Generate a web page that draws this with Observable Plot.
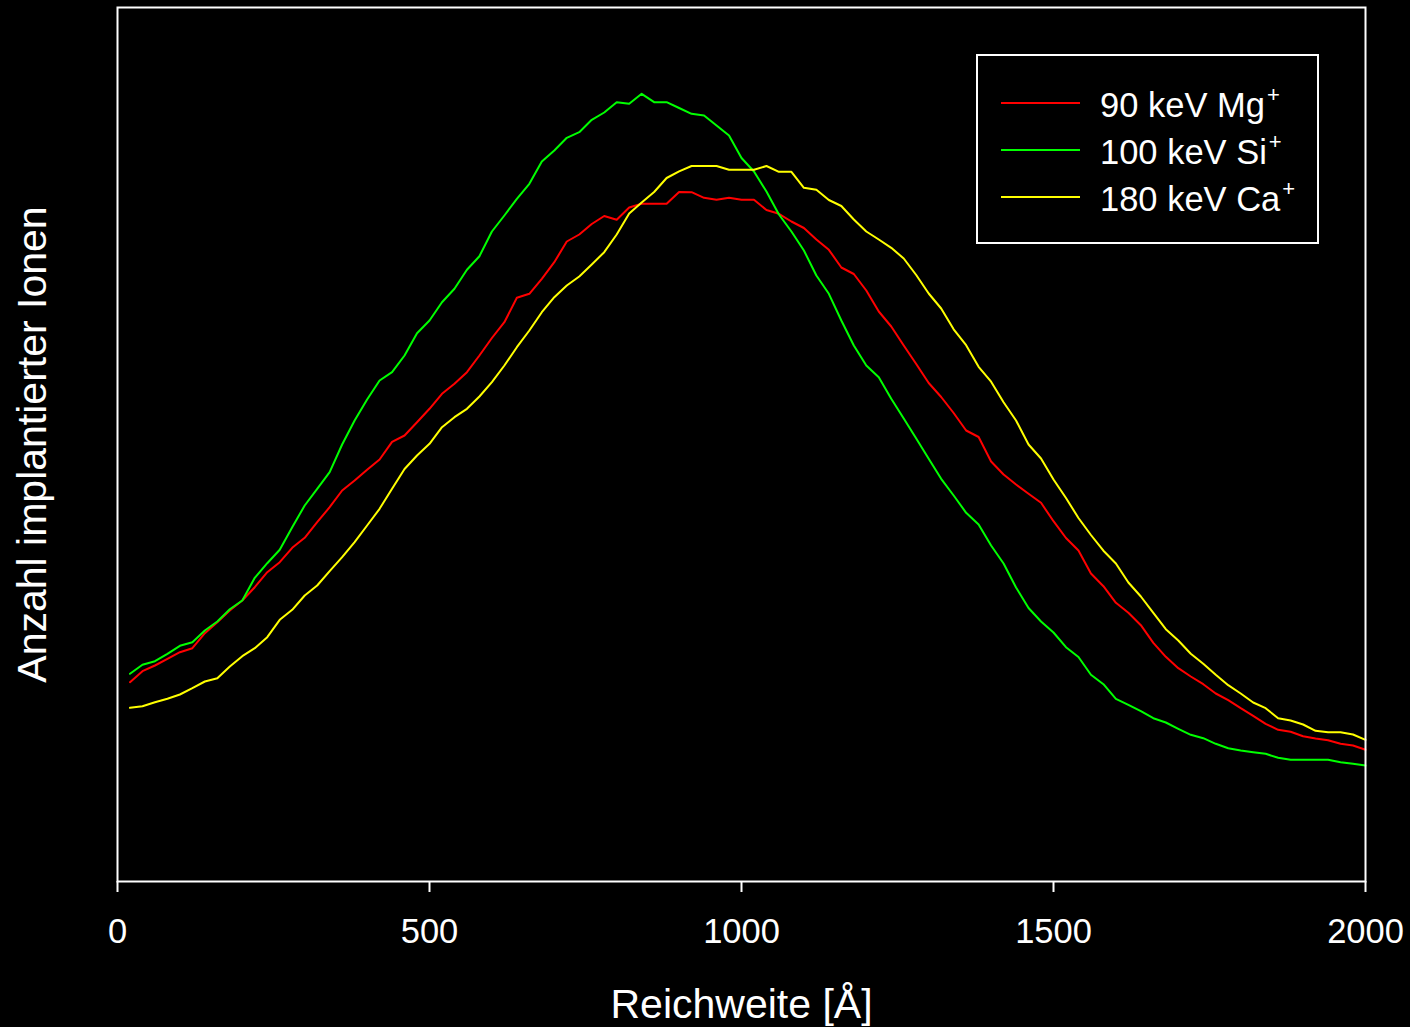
<!DOCTYPE html>
<html>
<head>
<meta charset="utf-8">
<script src="https://cdn.jsdelivr.net/npm/d3@7"></script>
<script src="https://cdn.jsdelivr.net/npm/@observablehq/plot@0.6"></script>
<style>
  html, body { margin: 0; padding: 0; background: #000; }
  #wrap { position: relative; width: 1410px; height: 1027px; background: #000; overflow: hidden; }
  #legend { position: absolute; left: 0; top: 0; pointer-events: none; }
</style>
</head>
<body>
<div id="wrap"></div>
<script>
// Reichweite (range) in Ångström
const reichweite = [20,40,60,80,100,120,140,160,180,200,220,240,260,280,300,320,340,360,380,400,
  420,440,460,480,500,520,540,560,580,600,620,640,660,680,700,720,740,760,780,800,
  820,840,860,880,900,920,940,960,980,1000,1020,1040,1060,1080,1100,1120,1140,1160,1180,1200,
  1220,1240,1260,1280,1300,1320,1340,1360,1380,1400,1420,1440,1460,1480,1500,1520,1540,1560,1580,1600,
  1620,1640,1660,1680,1700,1720,1740,1760,1780,1800,1820,1840,1860,1880,1900,1920,1940,1960,1980,2000];

// Anzahl implantierter Ionen (arbitrary units)
const mg90 = [199.3,210.3,216,222.7,229.3,233.3,248.3,259.3,271,281,294.3,309.3,319.3,333.7,343.7,359.3,374.3,391,401,411.7,
  422,439.7,446,459.3,472.7,487.7,497.7,509.3,526,543.5,559.3,583.7,587.7,602.7,619.3,640,647,657.5,665.5,661.7,
  674,677.7,677.7,677.7,689.5,689.3,683.7,681.7,683.7,681.8,681.7,671.5,667.7,660,653.5,642,631.7,614,607.5,591,
  570,555,536,517.5,498.5,484.5,468.5,451,444.5,420,407,397,387.7,378.7,360.3,343.5,331,308,295.3,278.7,
  268.7,256.3,238.7,224.7,213.3,205,197.3,188,181.3,173.3,165.7,157.7,151.7,149.7,145.3,143,141.3,137.7,136,131.7];

const si100 = [207.7,216.7,220.3,227.7,235.7,239.3,251,260,272.3,281,303.7,318.3,331.7,354.3,376,392.7,409.3,437,461,482,
  501,509.3,526,548.3,561,579.3,592.7,611.7,625.3,650,666,682.7,697.7,720,731,743.7,749.3,761.7,769,779.3,
  777.7,787.7,779.3,779.3,773.5,767.7,766,756,746,723.5,710,690,667,650,631,606,587.7,561,536,516,
  504.3,482.7,463,443,422.7,402.7,386,368.7,357,336,318,294,273.5,260,249,234.3,224.5,206.7,197.3,182.7,
  176.7,170.3,163.3,159,152.7,146.7,143.3,137.7,133.3,131,129.3,127.7,123.7,121.7,121.7,121.7,121.7,119.3,117.7,116];

const ca180 = [173.7,175.3,179.3,182.7,187,193.3,200,203.3,215,225.3,233.3,244.3,261.7,271.7,286,296,310.3,324.3,339.3,356,
  372.7,392.7,412.5,426,437.7,454.3,464.3,472.7,485,499.3,516,534.3,551,569.3,584.3,596,605,617,629.3,647,
  668,679,689.5,703.5,710.2,715.5,715.5,715.5,711.7,711.7,711.7,715.5,709.7,709.7,693.7,691.7,681.5,675.5,662,650,
  642,633.7,623,606.5,588,573,552.2,536.3,514.7,499.8,479.3,461,437,423,402,383.5,363.5,346.5,330.8,318,
  299,285,268.7,252.3,241,227.7,217.7,206.7,196.3,188,179,173.3,163.3,161,157,150.7,149.3,149.3,147,141.7];

const seriesNames = ["90 keV Mg", "100 keV Si", "180 keV Ca"];
const seriesSup = ["+", "+", "+"];
const seriesColors = ["#ff0000", "#00ff00", "#ffff00"];
const seriesValues = [mg90, si100, ca180];
const xTicks = [0, 500, 1000, 1500, 2000];
const xLabel = "Reichweite [Å]";
const yLabel = "Anzahl implantierter Ionen";

const data = [];
seriesValues.forEach((vals, s) => {
  vals.forEach((v, i) => data.push({series: seriesNames[s], x: reichweite[i], y: v}));
});

const font = "'Liberation Sans', Arial, Helvetica, sans-serif";

const chart = Plot.plot({
  width: 1410,
  height: 1027,
  marginLeft: 117,
  marginRight: 45,
  marginTop: 7,
  marginBottom: 146,
  style: {background: "#000", color: "#fff", fontFamily: font},
  x: {domain: [0, 2000]},
  y: {domain: [0, 874], axis: null},
  color: {domain: seriesNames, range: seriesColors},
  marks: [
    Plot.line(data, {x: "x", y: "y", z: "series", stroke: "series", strokeWidth: 2}),
    Plot.frame({stroke: "#fff", strokeWidth: 2}),
    Plot.axisX({ticks: xTicks, tickSize: 11, tickPadding: 26, fontSize: 34.5, label: null, strokeWidth: 2, tickFormat: d => String(d)}),
    Plot.text([xLabel], {text: d => d, frameAnchor: "bottom", lineAnchor: "middle", textAnchor: "middle", dy: 123, fontSize: 41, fill: "#fff"}),
    Plot.text([yLabel], {text: d => d, frameAnchor: "left", lineAnchor: "middle", textAnchor: "middle", dx: -85, rotate: -90, fontSize: 41, fill: "#fff"})
  ]
});

const wrap = document.getElementById("wrap");
wrap.appendChild(chart);

// Legend overlay
const ns = "http://www.w3.org/2000/svg";
const lg = document.createElementNS(ns, "svg");
lg.setAttribute("id", "legend");
lg.setAttribute("width", 1410);
lg.setAttribute("height", 1027);
const box = document.createElementNS(ns, "rect");
box.setAttribute("x", 977); box.setAttribute("y", 55);
box.setAttribute("width", 341); box.setAttribute("height", 188);
box.setAttribute("fill", "#000"); box.setAttribute("stroke", "#fff"); box.setAttribute("stroke-width", 2);
lg.appendChild(box);
seriesNames.forEach((name, i) => {
  const yl = 103 + i * 47;
  const ln = document.createElementNS(ns, "line");
  ln.setAttribute("x1", 1001); ln.setAttribute("x2", 1080);
  ln.setAttribute("y1", yl); ln.setAttribute("y2", yl);
  ln.setAttribute("stroke", seriesColors[i]); ln.setAttribute("stroke-width", 2);
  lg.appendChild(ln);
  const t = document.createElementNS(ns, "text");
  t.setAttribute("x", 1100); t.setAttribute("y", yl + 14);
  t.setAttribute("fill", "#fff"); t.setAttribute("font-size", 34.5);
  t.setAttribute("font-family", font);
  t.appendChild(document.createTextNode(name));
  const sup = document.createElementNS(ns, "tspan");
  sup.setAttribute("font-size", 22);
  sup.setAttribute("dy", -15);
  sup.setAttribute("dx", 2);
  sup.textContent = seriesSup[i];
  t.appendChild(sup);
  lg.appendChild(t);
});
wrap.appendChild(lg);
</script>
</body>
</html>
